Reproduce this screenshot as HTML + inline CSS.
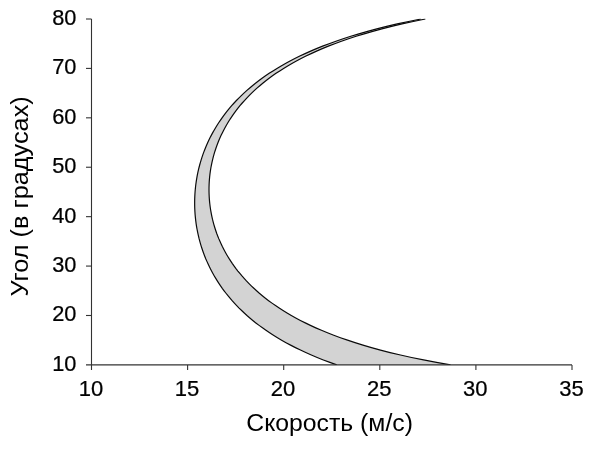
<!DOCTYPE html>
<html><head><meta charset="utf-8"><style>
html,body{margin:0;padding:0;background:#fff;}
svg{display:block}
text{font-family:"Liberation Sans",sans-serif;fill:#000}
</style></head><body>
<svg width="600" height="450" viewBox="0 0 600 450">
<defs><clipPath id="c"><rect x="80" y="18.5" width="510" height="346.6"/></clipPath></defs>
<rect width="600" height="450" fill="#fff"/>
<polygon points="336.75,364.90 329.87,362.43 323.35,359.96 317.18,357.49 311.32,355.02 305.75,352.55 300.45,350.08 295.41,347.60 290.60,345.13 286.01,342.66 281.63,340.19 277.45,337.72 273.45,335.25 269.62,332.78 265.96,330.31 262.45,327.84 259.09,325.37 255.86,322.90 252.77,320.43 249.81,317.96 246.96,315.49 244.24,313.01 241.62,310.54 239.10,308.07 236.69,305.60 234.37,303.13 232.14,300.66 230.01,298.19 227.95,295.72 225.99,293.25 224.10,290.78 222.28,288.31 220.55,285.84 218.88,283.37 217.28,280.90 215.75,278.42 214.29,275.95 212.89,273.48 211.55,271.01 210.27,268.54 209.05,266.07 207.89,263.60 206.79,261.13 205.73,258.66 204.74,256.19 203.79,253.72 202.89,251.25 202.05,248.78 201.25,246.31 200.51,243.83 199.81,241.36 199.15,238.89 198.55,236.42 197.99,233.95 197.47,231.48 197.00,229.01 196.57,226.54 196.19,224.07 195.85,221.60 195.55,219.13 195.30,216.66 195.09,214.19 194.92,211.72 194.79,209.24 194.70,206.77 194.66,204.30 194.66,201.83 194.69,199.36 194.78,196.89 194.90,194.42 195.06,191.95 195.27,189.48 195.52,187.01 195.81,184.54 196.15,182.07 196.53,179.60 196.95,177.13 197.41,174.65 197.92,172.18 198.48,169.71 199.08,167.24 199.73,164.77 200.42,162.30 201.16,159.83 201.95,157.36 202.79,154.89 203.68,152.42 204.62,149.95 205.61,147.48 206.66,145.01 207.76,142.54 208.91,140.06 210.12,137.59 211.39,135.12 212.73,132.65 214.12,130.18 215.57,127.71 217.10,125.24 218.68,122.77 220.34,120.30 222.07,117.83 223.87,115.36 225.75,112.89 227.71,110.42 229.75,107.95 231.88,105.47 234.09,103.00 236.40,100.53 238.80,98.06 241.31,95.59 243.91,93.12 246.63,90.65 249.46,88.18 252.41,85.71 255.48,83.24 258.69,80.77 262.03,78.30 265.53,75.83 269.17,73.36 272.98,70.88 276.96,68.41 281.12,65.94 285.47,63.47 290.03,61.00 294.81,58.53 299.83,56.06 305.09,53.59 310.63,51.12 316.45,48.65 322.59,46.18 329.06,43.71 335.90,41.24 343.13,38.77 350.79,36.29 358.92,33.82 367.58,31.35 376.80,28.88 386.65,26.41 397.20,23.94 408.53,21.47 420.74,19.00 425.35,19.00 413.25,21.47 402.02,23.94 391.58,26.41 381.83,28.88 372.71,31.35 364.16,33.82 356.13,36.29 348.57,38.77 341.44,41.24 334.70,43.71 328.33,46.18 322.30,48.65 316.58,51.12 311.14,53.59 305.98,56.06 301.06,58.53 296.38,61.00 291.92,63.47 287.67,65.94 283.61,68.41 279.74,70.88 276.03,73.36 272.49,75.83 269.11,78.30 265.87,80.77 262.77,83.24 259.80,85.71 256.96,88.18 254.24,90.65 251.63,93.12 249.14,95.59 246.75,98.06 244.46,100.53 242.27,103.00 240.17,105.47 238.16,107.95 236.24,110.42 234.41,112.89 232.65,115.36 230.97,117.83 229.37,120.30 227.84,122.77 226.38,125.24 225.00,127.71 223.68,130.18 222.42,132.65 221.23,135.12 220.10,137.59 219.03,140.06 218.03,142.54 217.08,145.01 216.18,147.48 215.35,149.95 214.57,152.42 213.84,154.89 213.17,157.36 212.55,159.83 211.98,162.30 211.46,164.77 210.99,167.24 210.58,169.71 210.21,172.18 209.89,174.65 209.62,177.13 209.40,179.60 209.23,182.07 209.11,184.54 209.03,187.01 209.01,189.48 209.03,191.95 209.10,194.42 209.21,196.89 209.38,199.36 209.59,201.83 209.85,204.30 210.16,206.77 210.52,209.24 210.93,211.72 211.39,214.19 211.90,216.66 212.46,219.13 213.08,221.60 213.74,224.07 214.46,226.54 215.23,229.01 216.06,231.48 216.94,233.95 217.89,236.42 218.88,238.89 219.94,241.36 221.06,243.83 222.24,246.31 223.49,248.78 224.80,251.25 226.18,253.72 227.63,256.19 229.14,258.66 230.74,261.13 232.40,263.60 234.15,266.07 235.97,268.54 237.88,271.01 239.88,273.48 241.96,275.95 244.14,278.42 246.41,280.90 248.79,283.37 251.27,285.84 253.86,288.31 256.56,290.78 259.38,293.25 262.33,295.72 265.41,298.19 268.63,300.66 271.99,303.13 275.51,305.60 279.19,308.07 283.04,310.54 287.07,313.01 291.30,315.49 295.73,317.96 300.38,320.43 305.25,322.90 310.38,325.37 315.78,327.84 321.46,330.31 327.44,332.78 333.77,335.25 340.45,337.72 347.52,340.19 355.01,342.66 362.98,345.13 371.45,347.60 380.48,350.08 390.13,352.55 400.48,355.02 411.58,357.49 423.55,359.96 436.49,362.43 450.53,364.90" fill="#d3d3d3" stroke="none"/>
<polyline points="336.75,364.90 329.87,362.43 323.35,359.96 317.18,357.49 311.32,355.02 305.75,352.55 300.45,350.08 295.41,347.60 290.60,345.13 286.01,342.66 281.63,340.19 277.45,337.72 273.45,335.25 269.62,332.78 265.96,330.31 262.45,327.84 259.09,325.37 255.86,322.90 252.77,320.43 249.81,317.96 246.96,315.49 244.24,313.01 241.62,310.54 239.10,308.07 236.69,305.60 234.37,303.13 232.14,300.66 230.01,298.19 227.95,295.72 225.99,293.25 224.10,290.78 222.28,288.31 220.55,285.84 218.88,283.37 217.28,280.90 215.75,278.42 214.29,275.95 212.89,273.48 211.55,271.01 210.27,268.54 209.05,266.07 207.89,263.60 206.79,261.13 205.73,258.66 204.74,256.19 203.79,253.72 202.89,251.25 202.05,248.78 201.25,246.31 200.51,243.83 199.81,241.36 199.15,238.89 198.55,236.42 197.99,233.95 197.47,231.48 197.00,229.01 196.57,226.54 196.19,224.07 195.85,221.60 195.55,219.13 195.30,216.66 195.09,214.19 194.92,211.72 194.79,209.24 194.70,206.77 194.66,204.30 194.66,201.83 194.69,199.36 194.78,196.89 194.90,194.42 195.06,191.95 195.27,189.48 195.52,187.01 195.81,184.54 196.15,182.07 196.53,179.60 196.95,177.13 197.41,174.65 197.92,172.18 198.48,169.71 199.08,167.24 199.73,164.77 200.42,162.30 201.16,159.83 201.95,157.36 202.79,154.89 203.68,152.42 204.62,149.95 205.61,147.48 206.66,145.01 207.76,142.54 208.91,140.06 210.12,137.59 211.39,135.12 212.73,132.65 214.12,130.18 215.57,127.71 217.10,125.24 218.68,122.77 220.34,120.30 222.07,117.83 223.87,115.36 225.75,112.89 227.71,110.42 229.75,107.95 231.88,105.47 234.09,103.00 236.40,100.53 238.80,98.06 241.31,95.59 243.91,93.12 246.63,90.65 249.46,88.18 252.41,85.71 255.48,83.24 258.69,80.77 262.03,78.30 265.53,75.83 269.17,73.36 272.98,70.88 276.96,68.41 281.12,65.94 285.47,63.47 290.03,61.00 294.81,58.53 299.83,56.06 305.09,53.59 310.63,51.12 316.45,48.65 322.59,46.18 329.06,43.71 335.90,41.24 343.13,38.77 350.79,36.29 358.92,33.82 367.58,31.35 376.80,28.88 386.65,26.41 397.20,23.94 408.53,21.47 420.74,19.00" fill="none" stroke="#0a0a0a" stroke-width="1.2" clip-path="url(#c)"/>
<polyline points="450.53,364.90 436.49,362.43 423.55,359.96 411.58,357.49 400.48,355.02 390.13,352.55 380.48,350.08 371.45,347.60 362.98,345.13 355.01,342.66 347.52,340.19 340.45,337.72 333.77,335.25 327.44,332.78 321.46,330.31 315.78,327.84 310.38,325.37 305.25,322.90 300.38,320.43 295.73,317.96 291.30,315.49 287.07,313.01 283.04,310.54 279.19,308.07 275.51,305.60 271.99,303.13 268.63,300.66 265.41,298.19 262.33,295.72 259.38,293.25 256.56,290.78 253.86,288.31 251.27,285.84 248.79,283.37 246.41,280.90 244.14,278.42 241.96,275.95 239.88,273.48 237.88,271.01 235.97,268.54 234.15,266.07 232.40,263.60 230.74,261.13 229.14,258.66 227.63,256.19 226.18,253.72 224.80,251.25 223.49,248.78 222.24,246.31 221.06,243.83 219.94,241.36 218.88,238.89 217.89,236.42 216.94,233.95 216.06,231.48 215.23,229.01 214.46,226.54 213.74,224.07 213.08,221.60 212.46,219.13 211.90,216.66 211.39,214.19 210.93,211.72 210.52,209.24 210.16,206.77 209.85,204.30 209.59,201.83 209.38,199.36 209.21,196.89 209.10,194.42 209.03,191.95 209.01,189.48 209.03,187.01 209.11,184.54 209.23,182.07 209.40,179.60 209.62,177.13 209.89,174.65 210.21,172.18 210.58,169.71 210.99,167.24 211.46,164.77 211.98,162.30 212.55,159.83 213.17,157.36 213.84,154.89 214.57,152.42 215.35,149.95 216.18,147.48 217.08,145.01 218.03,142.54 219.03,140.06 220.10,137.59 221.23,135.12 222.42,132.65 223.68,130.18 225.00,127.71 226.38,125.24 227.84,122.77 229.37,120.30 230.97,117.83 232.65,115.36 234.41,112.89 236.24,110.42 238.16,107.95 240.17,105.47 242.27,103.00 244.46,100.53 246.75,98.06 249.14,95.59 251.63,93.12 254.24,90.65 256.96,88.18 259.80,85.71 262.77,83.24 265.87,80.77 269.11,78.30 272.49,75.83 276.03,73.36 279.74,70.88 283.61,68.41 287.67,65.94 291.92,63.47 296.38,61.00 301.06,58.53 305.98,56.06 311.14,53.59 316.58,51.12 322.30,48.65 328.33,46.18 334.70,43.71 341.44,41.24 348.57,38.77 356.13,36.29 364.16,33.82 372.71,31.35 381.83,28.88 391.58,26.41 402.02,23.94 413.25,21.47 425.35,19.00" fill="none" stroke="#0a0a0a" stroke-width="1.2" clip-path="url(#c)"/>
<g stroke="#333" stroke-width="1.1" fill="none">
<path d="M91.5,19.0 V369.9"/>
<path d="M86.0,364.9 H572.0"/>
<path d="M86.0,315.49 H91.5"/>
<path d="M86.0,266.07 H91.5"/>
<path d="M86.0,216.66 H91.5"/>
<path d="M86.0,167.24 H91.5"/>
<path d="M86.0,117.83 H91.5"/>
<path d="M86.0,68.41 H91.5"/>
<path d="M86.0,19.00 H91.5"/>
<path d="M187.60,364.9 V369.9"/>
<path d="M283.70,364.9 V369.9"/>
<path d="M379.80,364.9 V369.9"/>
<path d="M475.90,364.9 V369.9"/>
<path d="M572.00,364.9 V369.9"/>
</g>
<g font-size="22.8" text-anchor="end" stroke="#000" stroke-width="0.25">
<text transform="translate(76.4,370.80) scale(0.955,0.955)">10</text>
<text transform="translate(76.4,321.39) scale(0.955,0.955)">20</text>
<text transform="translate(76.4,271.97) scale(0.955,0.955)">30</text>
<text transform="translate(76.4,222.56) scale(0.955,0.955)">40</text>
<text transform="translate(76.4,173.14) scale(0.955,0.955)">50</text>
<text transform="translate(76.4,123.73) scale(0.955,0.955)">60</text>
<text transform="translate(76.4,74.31) scale(0.955,0.955)">70</text>
<text transform="translate(76.4,24.90) scale(0.955,0.955)">80</text>
</g>
<g font-size="22.8" text-anchor="middle" stroke="#000" stroke-width="0.25">
<text transform="translate(90.90,396.2) scale(0.965,0.945)">10</text>
<text transform="translate(187.00,396.2) scale(0.965,0.945)">15</text>
<text transform="translate(283.10,396.2) scale(0.965,0.945)">20</text>
<text transform="translate(379.20,396.2) scale(0.965,0.945)">25</text>
<text transform="translate(475.30,396.2) scale(0.965,0.945)">30</text>
<text transform="translate(571.40,396.2) scale(0.965,0.945)">35</text>
</g>
<text x="246.3" y="430.6" font-size="23" textLength="166.6" lengthAdjust="spacingAndGlyphs">Скорость (м/с)</text>
<text transform="translate(27.6,296.5) rotate(-90)" font-size="23" textLength="200.3" lengthAdjust="spacingAndGlyphs">Угол (в градусах)</text>
</svg></body></html>
